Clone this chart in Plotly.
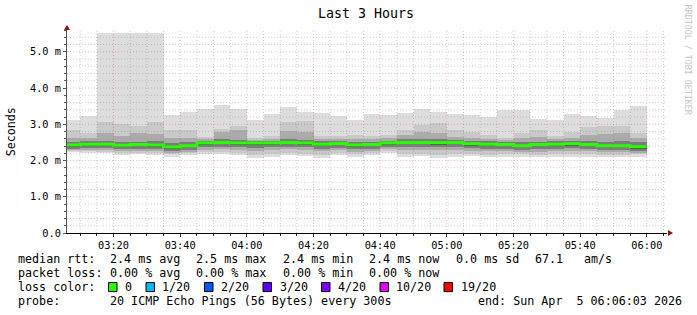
import plotly.graph_objects as go
import pandas as pd

# ---------------- data (values in milliseconds) ----------------
bar_start = pd.Timestamp("2026-04-05 03:05:00")   # start of first 5-minute step
step = pd.Timedelta(minutes=5)
n_bars = 35

median = [2.43, 2.45, 2.45, 2.42, 2.44, 2.43, 2.37, 2.41, 2.48, 2.50, 2.48, 2.48,
          2.48, 2.50, 2.48, 2.45, 2.47, 2.43, 2.44, 2.48, 2.50, 2.50, 2.49, 2.50,
          2.46, 2.45, 2.44, 2.41, 2.44, 2.45, 2.46, 2.44, 2.41, 2.41, 2.38]
p_max = [3.12, 3.22, 5.53, 5.53, 5.53, 5.53, 3.26, 3.35, 3.41, 3.54, 3.43, 3.12,
         3.29, 3.48, 3.35, 3.30, 3.22, 3.12, 3.28, 3.25, 3.31, 3.41, 3.34, 3.28,
         3.25, 3.20, 3.39, 3.40, 3.15, 3.12, 3.29, 3.22, 3.18, 3.39, 3.51]
hi2 = [2.85, 2.75, 3.07, 3.01, 2.94, 3.06, 2.85, 2.85, 2.66, 2.86, 2.94, 2.62,
       2.68, 3.07, 3.10, 2.68, 2.68, 2.71, 2.68, 2.71, 2.83, 2.98, 3.03, 2.85,
       2.80, 2.71, 2.62, 2.75, 2.85, 2.68, 2.80, 2.92, 2.94, 2.94, 2.75]
hi3 = [2.62, 2.62, 2.75, 2.68, 2.77, 2.74, 2.62, 2.62, 2.58, 2.78, 2.85, 2.57,
       2.58, 2.82, 2.80, 2.60, 2.60, 2.60, 2.60, 2.62, 2.70, 2.78, 2.75, 2.66,
       2.62, 2.60, 2.56, 2.62, 2.66, 2.60, 2.62, 2.70, 2.72, 2.75, 2.62]
hi4 = [2.52, 2.54, 2.55, 2.52, 2.52, 2.53, 2.47, 2.50, 2.55, 2.58, 2.57, 2.54,
       2.55, 2.60, 2.57, 2.53, 2.54, 2.51, 2.52, 2.55, 2.58, 2.60, 2.58, 2.57,
       2.54, 2.53, 2.51, 2.50, 2.52, 2.53, 2.54, 2.54, 2.52, 2.53, 2.50]
hi5 = [2.46, 2.48, 2.48, 2.45, 2.47, 2.46, 2.40, 2.44, 2.51, 2.53, 2.51, 2.51,
       2.51, 2.53, 2.51, 2.48, 2.50, 2.46, 2.47, 2.51, 2.53, 2.53, 2.52, 2.53,
       2.49, 2.48, 2.47, 2.44, 2.47, 2.48, 2.49, 2.47, 2.44, 2.44, 2.41]
lo5 = [2.38, 2.40, 2.40, 2.37, 2.39, 2.38, 2.32, 2.36, 2.43, 2.45, 2.43, 2.43,
       2.43, 2.45, 2.43, 2.40, 2.42, 2.38, 2.39, 2.43, 2.45, 2.45, 2.44, 2.45,
       2.41, 2.40, 2.39, 2.36, 2.39, 2.40, 2.41, 2.39, 2.36, 2.36, 2.33]
lo4 = [2.33, 2.35, 2.34, 2.31, 2.33, 2.31, 2.27, 2.30, 2.37, 2.38, 2.36, 2.35,
       2.36, 2.38, 2.36, 2.33, 2.35, 2.31, 2.33, 2.37, 2.37, 2.38, 2.36, 2.37,
       2.34, 2.33, 2.32, 2.29, 2.31, 2.33, 2.34, 2.32, 2.29, 2.29, 2.27]
lo3 = [2.28, 2.29, 2.28, 2.25, 2.27, 2.25, 2.21, 2.24, 2.30, 2.31, 2.29, 2.27,
       2.28, 2.31, 2.28, 2.26, 2.28, 2.24, 2.27, 2.31, 2.30, 2.30, 2.28, 2.29,
       2.27, 2.25, 2.25, 2.23, 2.24, 2.26, 2.27, 2.25, 2.23, 2.23, 2.22]
lo2 = [2.27, 2.25, 2.24, 2.21, 2.22, 2.20, 2.18, 2.20, 2.23, 2.24, 2.21, 2.15,
       2.17, 2.21, 2.19, 2.15, 2.20, 2.17, 2.21, 2.25, 2.18, 2.19, 2.15, 2.17,
       2.19, 2.16, 2.17, 2.17, 2.16, 2.18, 2.18, 2.17, 2.16, 2.16, 2.18]
p_min = [2.23, 2.20, 2.20, 2.15, 2.17, 2.14, 2.11, 2.14, 2.17, 2.18, 2.15, 2.08,
         2.11, 2.15, 2.13, 2.08, 2.14, 2.11, 2.15, 2.20, 2.11, 2.13, 2.08, 2.11,
         2.13, 2.09, 2.11, 2.11, 2.09, 2.11, 2.11, 2.11, 2.09, 2.09, 2.11]

y_tick_vals = [0, 1, 2, 3, 4, 5]
y_tick_text = ["0.0", "1.0 m", "2.0 m", "3.0 m", "4.0 m", "5.0 m"]
x_tick_text = ["03:20", "03:40", "04:00", "04:20", "04:40", "05:00", "05:20", "05:40", "06:00"]

legend_rtt = [("median rtt:", 16), ("2.4 ms avg", 107.5), ("2.5 ms max", 194),
              ("2.4 ms min", 280.5), ("2.4 ms now", 367), ("0.0 ms sd", 453.5),
              ("67.1", 532.5), ("am/s", 581.5)]
legend_loss = [("packet loss:", 16), ("0.00 % avg", 107.5), ("0.00 % max", 194),
               ("0.00 % min", 280.5), ("0.00 % now", 367)]
loss_labels = ["0", "1/20", "2/20", "3/20", "4/20", "10/20", "19/20"]
loss_colors = ["#26ff00", "#00b8ff", "#0059ff", "#5e00ff", "#7e00ff", "#dd00ff", "#ff0000"]

# ---------------- geometry ----------------
W, H = 697, 315
ML, MR, MT, MB = 67, 30, 30.3, 82
PW, PH = W - ML - MR, H - MT - MB
FONT = "DejaVu Sans Mono"


def px(x):
    return (x - ML) / PW


def py(y):
    return (H - MB - y) / PH


x_start = pd.Timestamp("2026-04-05 03:06:03")
x_end = pd.Timestamp("2026-04-05 06:06:03")

centers = [bar_start + step * (k + 0.5) for k in range(n_bars)]
edges = [bar_start + step * k for k in range(n_bars + 1)]
width_ms = step.total_seconds() * 1000

fig = go.Figure()

layers = [
    (p_min, p_max, "#dddddd"),
    (lo2, hi2, "#c9c9c9"),
    (lo3, hi3, "#ababab"),
    (lo4, hi4, "#7c7c7c"),
    (lo5, hi5, "#474747"),
]
for lo, hi, col in layers:
    fig.add_trace(go.Bar(
        x=centers, base=lo, y=[h - l for h, l in zip(hi, lo)],
        width=width_ms, marker=dict(color=col, line=dict(width=0)),
        showlegend=False, hoverinfo="skip"))

fig.add_trace(go.Scatter(
    x=edges, y=median + [median[-1]], mode="lines",
    line=dict(color="#26ff00", width=3, shape="hv"),
    showlegend=False, hoverinfo="skip"))

# ---------------- grid (drawn above the smoke like rrdtool) ----------------
shapes = []
minor_x = pd.date_range("2026-04-05 03:10:00", "2026-04-05 06:05:00", freq="5min")
major_x = pd.date_range("2026-04-05 03:20:00", "2026-04-05 06:00:00", freq="20min")
major_set = set(major_x)
minor_col = "rgba(140,140,140,0.42)"
major_col = "rgba(225,60,60,0.36)"
for t in minor_x:
    is_major = t in major_set
    shapes.append(dict(type="line", xref="x", yref="paper", x0=t, x1=t, y0=0, y1=1,
                       line=dict(color=major_col if is_major else minor_col, width=1,
                                 dash="1px,2px"), layer="above"))
for i in range(1, 28):
    v = i * 0.2
    is_major = (i % 5 == 0)
    shapes.append(dict(type="line", xref="paper", yref="y", x0=0, x1=1, y0=v, y1=v,
                       line=dict(color=major_col if is_major else minor_col, width=1,
                                 dash="1px,2px"), layer="above"))

# axis arrows
shapes.append(dict(type="path", xref="paper", yref="paper", xsizemode="pixel",
                   ysizemode="pixel", xanchor=1.0, yanchor=0.0,
                   path="M 1,-3 L 6,0 L 1,3 Z", fillcolor="#8b1010",
                   line=dict(width=0), layer="above"))
shapes.append(dict(type="path", xref="paper", yref="paper", xsizemode="pixel",
                   ysizemode="pixel", xanchor=0.0, yanchor=1.0,
                   path="M -3,0 L 3,0 L 0,5 Z", fillcolor="#8b1010",
                   line=dict(width=0), layer="above"))

# loss-color legend squares
sq_x = [108.5, 146, 204.5, 263, 321.5, 380, 444]
lbl_x = [123, 160, 219, 277.5, 336, 394, 458.5]
row3 = 287
for sx, c in zip(sq_x, loss_colors):
    shapes.append(dict(type="rect", xref="paper", yref="paper",
                       x0=px(sx), x1=px(sx + 8.5), y0=py(row3 + 4.5), y1=py(row3 - 4.5),
                       fillcolor=c, line=dict(color="black", width=1)))

annotations = []


def txt(s, x, y, size=11.7, anchor="left", color="black", angle=0):
    annotations.append(dict(text=s, x=px(x), y=py(y), xref="paper", yref="paper",
                            xanchor=anchor, yanchor="middle", showarrow=False,
                            textangle=angle,
                            font=dict(family=FONT, size=size, color=color)))


txt("Last 3 Hours", 366, 14, size=13.3, anchor="center")
txt("Seconds", 10.5, 132, size=11.7, anchor="center", angle=-90)
txt("RRDTOOL / TOBI OETIKER", 688, 60, size=8.3, anchor="center", color="#c4c4c4", angle=90)

for s, x in legend_rtt:
    txt(s, x, 259)
for s, x in legend_loss:
    txt(s, x, 273)
txt("loss color:", 16, row3)
for s, x in zip(loss_labels, lbl_x):
    txt(s, x, row3)
txt("probe:", 16, 301)
txt("20 ICMP Echo Pings (56 Bytes) every 300s", 107.5, 301)
txt("end: Sun Apr \u00a05 06:06:03 2026", 684, 301, anchor="right")

fig.update_layout(
    width=W, height=H, margin=dict(l=ML, r=MR, t=MT, b=MB, pad=0),
    paper_bgcolor="white", plot_bgcolor="white",
    barmode="overlay", bargap=0, showlegend=False,
    shapes=shapes, annotations=annotations,
    font=dict(family=FONT, size=10.3, color="black"),
)
fig.update_xaxes(
    type="date", range=[x_start, x_end], showgrid=False, zeroline=False,
    tickvals=list(major_x), ticktext=x_tick_text,
    ticks="outside", ticklen=3, tickcolor="#333", tickfont=dict(family=FONT, size=10.3),
    minor=dict(dtick=width_ms, ticks="outside", ticklen=2, tickcolor="#333", showgrid=False),
    showline=True, linecolor="black", linewidth=1, layer="above traces",
)
fig.update_yaxes(
    range=[0, 5.6], showgrid=False, zeroline=False,
    tickvals=y_tick_vals, ticktext=y_tick_text,
    ticks="outside", ticklen=3, tickcolor="#555", tickfont=dict(family=FONT, size=10.3),
    minor=dict(dtick=0.2, ticks="outside", ticklen=2, tickcolor="#555", showgrid=False),
    showline=True, linecolor="#555", linewidth=1, layer="above traces",
)

fig.write_html("out.html")
